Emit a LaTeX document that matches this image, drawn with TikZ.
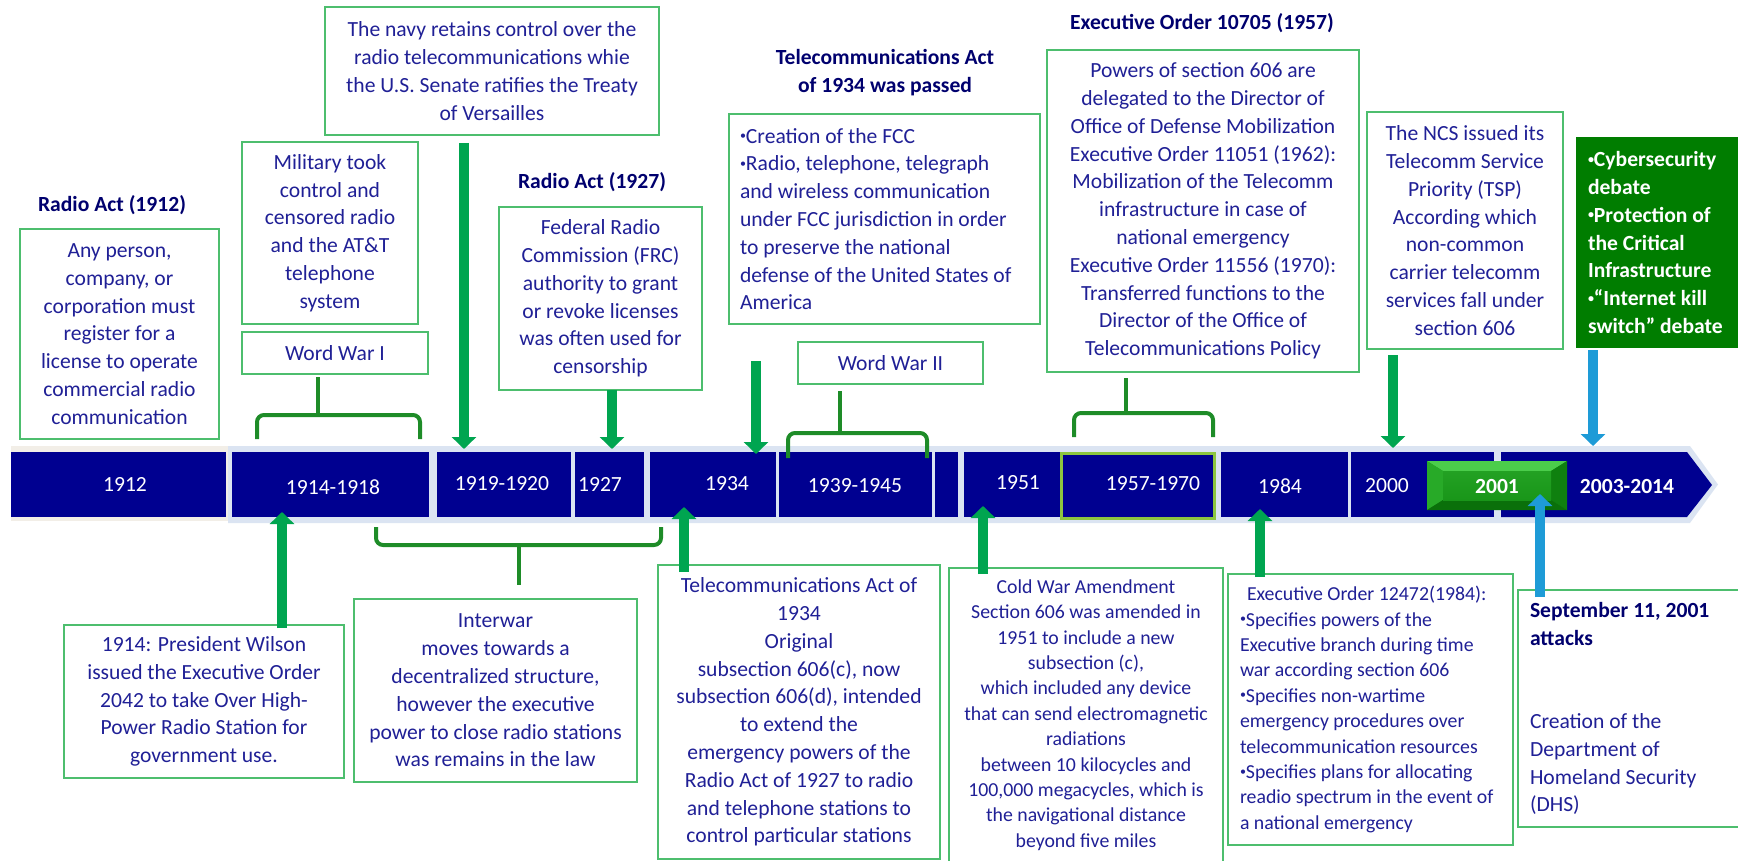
\documentclass[tikz,border=0pt]{standalone}
\usepackage{fontspec}
\setmainfont{Carlito}
\usetikzlibrary{arrows.meta}

\definecolor{barblue}{RGB}{0,0,144}
\definecolor{barhalo}{RGB}{219,228,242}
\definecolor{barbeige}{RGB}{242,238,231}
\definecolor{boxline}{RGB}{77,190,110}
\definecolor{txtblue}{RGB}{32,32,150}
\definecolor{headblue}{RGB}{0,0,110}
\definecolor{brgreen}{RGB}{30,140,40}
\definecolor{argreen}{RGB}{0,165,80}
\definecolor{arblue}{RGB}{30,155,215}
\definecolor{cybergreen}{RGB}{0,125,0}
\definecolor{limeline}{RGB}{140,198,63}
\definecolor{gtop}{RGB}{75,205,75}
\definecolor{gleft}{RGB}{40,170,40}
\definecolor{gright}{RGB}{15,128,15}
\definecolor{gbottom}{RGB}{10,112,10}
\definecolor{gface}{RGB}{25,150,25}

\newcommand\bigtxt{\fontsize{21.6}{27.8}\selectfont}
\newcommand\smalltxt{\fontsize{19.8}{25.4}\selectfont}
% small raised bullet used in the listed boxes
\newcommand\bul{\raisebox{3.5pt}{\fontsize{12}{12}\selectfont •}}

\tikzset{
  box/.style={draw=boxline, line width=2.4pt, fill=white, inner sep=0pt,
              text=txtblue, align=center, font=\bigtxt},
  boxtext/.style={text=txtblue, font=\bigtxt, align=left, inner sep=0pt},
  head/.style={text=headblue, font=\bigtxt\bfseries, inner sep=0pt, align=center},
  seg/.style={fill=barblue, minimum height=65pt, inner sep=0pt},
  yearlbl/.style={text=white, font=\bigtxt, inner sep=0pt},
  brace/.style={draw=brgreen, line width=4pt, rounded corners=7pt},
  garrow/.style={draw=argreen, line width=10pt, -{Triangle[width=24pt,length=12pt]}},
  barrow/.style={draw=arblue, line width=10pt, -{Triangle[width=24pt,length=12pt]}}
}

\begin{document}
\begin{tikzpicture}[x=1pt,y=-1pt]
\useasboundingbox (0,0) rectangle (1738,861);

% ---------- timeline bar ----------
\fill[barbeige] (11,446) rectangle (228,521);
\fill[barhalo] (228,446) -- (1690,446) -- (1718,484.5) -- (1690,523) -- (228,523) -- cycle;

\node[seg, minimum width=215pt] (s1912) at (118.5,484.5) {};
\node[seg, minimum width=197pt] (s1914) at (330.5,484.5) {};
\node[seg, minimum width=134pt] (s1919) at (504,484.5) {};
\node[seg, minimum width=69pt]  (s1927) at (609.5,484.5) {};
\node[seg, minimum width=126pt] (s1934) at (713,484.5) {};
\node[seg, minimum width=153pt] (s1939) at (855.5,484.5) {};
\node[seg, minimum width=23pt]  (sgap)  at (946.5,484.5) {};
\node[seg, minimum width=96pt]  (s1951) at (1012,484.5) {};
\node[seg, minimum width=153pt, minimum height=65pt, draw=limeline, line width=3pt] (s1957) at (1137.5,485.5) {};
\node[seg, minimum width=127pt] (s1984) at (1284.5,484.5) {};
\node[seg, minimum width=143pt] (s2000) at (1422.5,484.5) {};
\fill[barblue] (1501,452) -- (1687,452) -- (1712,485) -- (1687,517) -- (1501,517) -- cycle;
\node[inner sep=0pt, minimum width=211pt, minimum height=65pt] (s2003) at (1606,484.5) {};

% bevelled 2001 block
\node[inner sep=0pt, minimum width=140pt, minimum height=49pt] (s2001) at (1497,485.5) {};
\fill[gface] (1427,461) rectangle (1567,510);
\fill[gtop] (1427,461) -- (1567,461) -- (1551,471) -- (1443,471) -- cycle;
\fill[gleft] (1427,461) -- (1443,471) -- (1443,500) -- (1427,510) -- cycle;
\fill[gright] (1567,461) -- (1567,510) -- (1551,500) -- (1551,471) -- cycle;
\fill[gbottom] (1427,510) -- (1443,500) -- (1551,500) -- (1567,510) -- cycle;
\shade[top color=gface!80!gtop, bottom color=gface] (1443,471) rectangle (1551,500);

\node[yearlbl] (l1912) at (125,484) {1912};
\node[yearlbl] (l1914) at (333,487) {1914-1918};
\node[yearlbl] (l1919) at (502,484) {1919-1920};
\node[yearlbl] (l1927) at (600,484) {1927};
\node[yearlbl] (l1934) at (727,484) {1934};
\node[yearlbl] (l1939) at (855,486) {1939-1945};
\node[yearlbl] (l1951) at (1018,483) {1951};
\node[yearlbl] (l1957) at (1153,484) {1957-1970};
\node[yearlbl] (l1984) at (1280,486) {1984};
\node[yearlbl] (l2000) at (1387,486) {2000};
\node[yearlbl, font=\bigtxt\bfseries] (l2001) at (1497,486) {2001};
\node[yearlbl, font=\bigtxt\bfseries] (l2003) at (1627,486) {2003-2014};

% ---------- upper boxes ----------
\node[head] (h1912) at (112,205) {Radio Act (1912)};
\node[box, minimum width=199pt, minimum height=210pt] (b1912) at (119.5,334)
  {Any person,\\company, or\\corporation must\\register for a\\license to operate\\commercial radio\\communication};

\node[box, minimum width=176pt, minimum height=182pt] (bmil) at (330,233)
  {Military took\\control and\\censored radio\\and the AT\&T\\telephone\\system};
\node[box, minimum width=186pt, minimum height=42pt] (bww1) at (335,353) {Word War I};

\node[box, minimum width=334pt, minimum height=128pt] (bnavy) at (492,71)
  {The navy retains control over the\\radio telecommunications whie\\the U.S. Senate ratifies the Treaty\\of Versailles};

\node[head] (h1927) at (592,182) {Radio Act (1927)};
\node[box, minimum width=203pt, minimum height=183pt] (bfrc) at (600.5,298.5)
  {Federal Radio\\Commission (FRC)\\authority to grant\\or revoke licenses\\was often used for\\censorship};

\node[head] (h1934) at (885,73) {Telecommunications Act\\of 1934 was passed};
\node[box, minimum width=311pt, minimum height=210pt] (bfcc) at (884.5,219) {};
\node[boxtext, anchor=west] (tfcc) at ([xshift=12pt]bfcc.west)
  {\bul Creation of the FCC\\\bul Radio, telephone, telegraph\\and wireless communication\\under FCC jurisdiction in order\\to preserve the national\\defense of the United States of\\America};
\node[box, minimum width=185pt, minimum height=42pt] (bww2) at (890.5,363) {Word War II};

\node[head] (h1957) at (1202,23) {Executive Order 10705 (1957)};
\node[box, minimum width=312pt, minimum height=322pt] (beo) at (1203,211)
  {Powers of section 606 are\\delegated to the Director of\\Office of Defense Mobilization\\Executive Order 11051 (1962):\\Mobilization of the Telecomm\\infrastructure in case of\\national emergency\\Executive Order 11556 (1970):\\Transferred functions to the\\Director of the Office of\\Telecommunications Policy};

\node[box, minimum width=196pt, minimum height=237pt] (bncs) at (1465,230.5)
  {The NCS issued its\\Telecomm Service\\Priority (TSP)\\According which\\non-common\\carrier telecomm\\services fall under\\section 606};

\node[fill=cybergreen, inner sep=0pt, minimum width=169pt, minimum height=211pt] (bcyber) at (1660.5,242.5) {};
\node[boxtext, text=white, font=\bigtxt\bfseries, anchor=west] (tcyber) at ([xshift=12pt]bcyber.west)
  {\bul Cybersecurity\\debate\\\bul Protection of\\the Critical\\Infrastructure\\\bul “Internet kill\\switch” debate};

% ---------- lower boxes ----------
\node[box, minimum width=280pt, minimum height=153pt] (b1914) at (204,701.5)
  {1914: President Wilson\\issued the Executive Order\\2042 to take Over High-\\Power Radio Station for\\government use.};

\node[box, minimum width=283pt, minimum height=183pt] (binter) at (495.5,690.5)
  {Interwar\\moves towards a\\decentralized structure,\\however the executive\\power to close radio stations\\was remains in the law};

\node[box, minimum width=282pt, minimum height=294pt] (btel) at (799,712)
  {Telecommunications Act of\\1934\\Original\\subsection 606(c), now\\subsection 606(d), intended\\to extend the\\emergency powers of the\\Radio Act of 1927 to radio\\and telephone stations to\\control particular stations};

\node[box, font=\smalltxt, minimum width=274pt, minimum height=294pt] (bcold) at (1086,715)
  {Cold War Amendment\\Section 606 was amended in\\1951 to include a new\\subsection (c),\\which included any device\\that can send electromagnetic\\radiations\\between 10 kilocycles and\\100,000 megacycles, which is\\the navigational distance\\beyond five miles};

\node[box, minimum width=285pt, minimum height=271pt] (beo84) at (1370.5,709.5) {};
\node[boxtext, font=\smalltxt, anchor=west] (teo84) at ([xshift=13pt]beo84.west)
  {\hspace*{7pt}Executive Order 12472(1984):\\\bul Specifies powers of the\\Executive branch during time\\war according section 606\\\bul Specifies non-wartime\\emergency procedures over\\telecommunication resources\\\bul Specifies plans for allocating\\readio spectrum in the event of\\a national emergency};

\node[box, minimum width=227pt, minimum height=237pt] (bsept) at (1631.5,708.5) {};
\node[boxtext, anchor=west] (tsept) at ([xshift=13pt]bsept.west)
  {{\bfseries\color{headblue}September 11, 2001}\\{\bfseries\color{headblue}attacks}\\[55.6pt]Creation of the\\Department of\\Homeland Security\\(DHS)};

% ---------- braces ----------
\coordinate (w1top) at (318,377);
\coordinate (w1mid) at (318,415);
\draw[brace] (257,439) |- (420,415) -- (420,439);
\draw[brace] (w1top) -- (w1mid);

\coordinate (w2top) at (840,391);
\coordinate (w2mid) at (840,433);
\draw[brace] (788,458) |- (927,433) -- (927,458);
\draw[brace] (w2top) -- (w2mid);

\coordinate (eotop) at (1126,378);
\coordinate (eomid) at (1126,413);
\draw[brace] (1074,437) |- (1213,413) -- (1213,437);
\draw[brace] (eotop) -- (eomid);

\coordinate (iwmid) at (519,545);
\coordinate (iwbot) at (519,585);
\draw[brace] (376,527) |- (661,545) -- (661,527);
\draw[brace] (iwmid) -- (iwbot);

% ---------- arrows ----------
\coordinate (a1s) at (464,143);  \coordinate (a1e) at (464,449);
\coordinate (a2s) at (612,390);  \coordinate (a2e) at (612,449);
\coordinate (a3s) at (756,361);  \coordinate (a3e) at (756,454);
\coordinate (a4s) at (1393,355); \coordinate (a4e) at (1393,448);
\coordinate (a5s) at (1593,350); \coordinate (a5e) at (1593,446);
\coordinate (a6s) at (282,628);  \coordinate (a6e) at (282,512);
\coordinate (a7s) at (684,572);  \coordinate (a7e) at (684,507);
\coordinate (a8s) at (983,574);  \coordinate (a8e) at (983,506);
\coordinate (a9s) at (1260,577); \coordinate (a9e) at (1260,509);
\coordinate (a10s) at (1540,597); \coordinate (a10e) at (1540,494);

\draw[garrow] (a1s) -- (a1e);
\draw[garrow] (a2s) -- (a2e);
\draw[garrow] (a3s) -- (a3e);
\draw[garrow] (a4s) -- (a4e);
\draw[barrow] (a5s) -- (a5e);
\draw[garrow] (a6s) -- (a6e);
\draw[garrow] (a7s) -- (a7e);
\draw[garrow] (a8s) -- (a8e);
\draw[garrow] (a9s) -- (a9e);
\draw[barrow] (a10s) -- (a10e);

\end{tikzpicture}
\end{document}
